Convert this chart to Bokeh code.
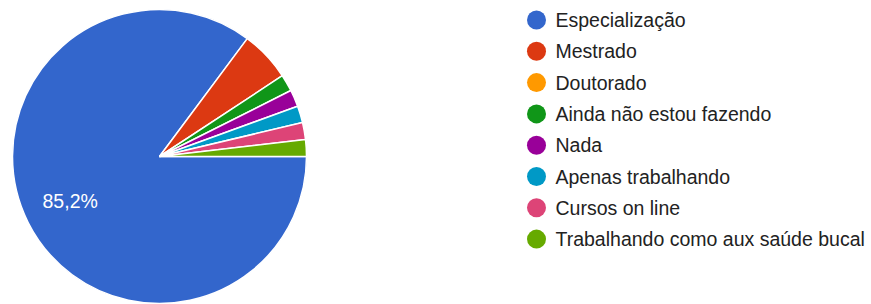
import math
from bokeh.plotting import figure
from bokeh.models import Range1d, ColumnDataSource
from bokeh.core.properties import value
from bokeh.embed import file_html
from bokeh.resources import INLINE

categories = ["Especialização", "Mestrado", "Doutorado", "Ainda não estou fazendo",
              "Nada", "Apenas trabalhando", "Cursos on line", "Trabalhando como aux saúde bucal"]
counts = [46, 3, 0, 1, 1, 1, 1, 1]
colors = ["#3366cc", "#dc3912", "#ff9900", "#109618", "#990099", "#0099c6", "#dd4477", "#66aa00"]

W, H = 871, 304
p = figure(width=W, height=H, output_backend="svg", toolbar_location=None,
           x_range=Range1d(0, W), y_range=Range1d(0, H), min_border=0)
p.axis.visible = False
p.grid.visible = False
p.outline_line_color = None
p.background_fill_color = "white"

cx, cy, r = 159, H - 156, 147
total = sum(counts)
starts, ends, cols, fracs = [], [], [], []
cum = 0.0
for c, col in zip(counts, colors):
    f = c / total
    if c > 0:
        # clockwise from 3 o'clock
        starts.append(-2 * math.pi * (cum + f))
        ends.append(-2 * math.pi * cum)
        cols.append(col)
        fracs.append((cum, f))
    cum += f

src = ColumnDataSource(dict(start=starts, end=ends, color=cols))
p.wedge(x=cx, y=cy, radius=r, radius_units="screen", start_angle="start", end_angle="end",
        fill_color="color", line_color="white", line_width=1.5, source=src)

# slice labels for large slices
lx, ly, lt = [], [], []
for (c0, f) in fracs:
    if f > 0.1:
        mid = -2 * math.pi * (c0 + f / 2)
        lx.append(cx + 0.68 * r * math.cos(mid))
        ly.append(cy + 0.68 * r * math.sin(mid))
        lt.append(f"{f*100:.1f}%".replace(".", ","))
p.text(x=lx, y=ly, text=lt, text_color="white", text_font=value("Liberation Sans"),
       text_font_size="19.5px", text_align="center", text_baseline="middle")

# legend
top, step = H - 19.5, 31.3
ys = [top - i * step for i in range(len(categories))]
p.scatter(x=[536] * len(categories), y=ys, size=19, marker="circle",
          fill_color=colors, line_color=None)
p.text(x=[555] * len(categories), y=ys, text=categories, text_color="#222222",
       text_font=value("Liberation Sans"), text_font_size="19.5px",
       text_align="left", text_baseline="middle")

open("out.html", "w").write(file_html(p, INLINE))
